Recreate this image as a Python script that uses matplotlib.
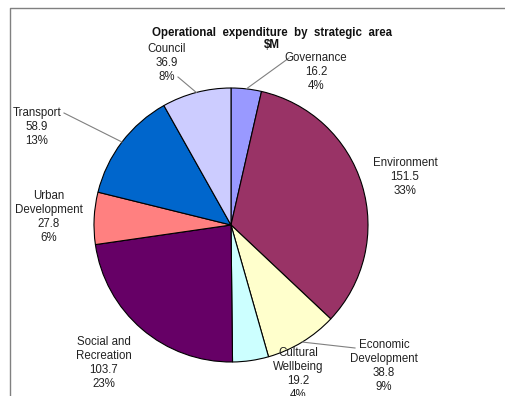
import matplotlib.pyplot as plt
import numpy as np

plt.rcParams['font.family'] = ['Liberation Sans', 'DejaVu Sans']

# Operational expenditure by strategic area ($M)
areas = ["Governance", "Environment", "Economic\nDevelopment", "Cultural\nWellbeing",
         "Social and\nRecreation", "Urban\nDevelopment", "Transport", "Council"]
spend = [16.2, 151.5, 38.8, 19.2, 103.7, 27.8, 58.9, 36.9]
colours = ["#9999FF", "#993366", "#FFFFCC", "#CCFFFF",
           "#660066", "#FF8080", "#0066CC", "#CCCCFF"]

W, H = 505, 396
cx, cy, rad = 231, 225, 137

# label centre (pixels from top-left) and leader start, or None
label_pos = [(316, 72), (405, 177), (384, 366), (298, 374),
             (104, 363), (49, 217), (37, 127), (167, 63)]
leader_from = [(289, 58), None, (355, 348), None,
               None, None, (64, 113), (178, 77)]

fig = plt.figure(figsize=(W / 100, H / 100), dpi=100)
ax = fig.add_axes([0, 0, 1, 1])

def py(y):
    return H - y

wedges, _ = ax.pie(spend, colors=colours, startangle=90, counterclock=False,
                   center=(cx, py(cy)), radius=rad,
                   wedgeprops=dict(edgecolor="black", linewidth=0.8))
ax.set_xlim(0, W)
ax.set_ylim(0, H)
ax.set_aspect("equal")
ax.axis("off")

total = sum(spend)
for i, (name, val) in enumerate(zip(areas, spend)):
    pct = round(val / total * 100)
    lx, ly = label_pos[i]
    ax.text(lx, py(ly), "%s\n%.1f\n%d%%" % (name, val, pct), ha="center", va="center",
            fontsize=8.3, color="#222222", linespacing=1.2)
    if leader_from[i] is not None:
        w = wedges[i]
        mid = np.deg2rad((w.theta1 + w.theta2) / 2)
        ex = cx + rad * np.cos(mid)
        ey = py(cy) + rad * np.sin(mid)
        sx, sy = leader_from[i]
        ax.plot([sx, ex], [py(sy), ey], color="#808080", linewidth=0.8)

# two-line title
ax.text(272, py(33), "Operational  expenditure  by  strategic  area", ha="center",
        va="center", fontsize=8.3, fontweight="bold", color="#111111")
ax.text(272, py(45), "$M", ha="center", va="center", fontsize=8.3,
        fontweight="bold", color="#111111")

# outer chart frame
ax.plot([10, 10, W], [0, py(8), py(8)], color="#808080", linewidth=1)

fig.savefig("out.png", dpi=100)
